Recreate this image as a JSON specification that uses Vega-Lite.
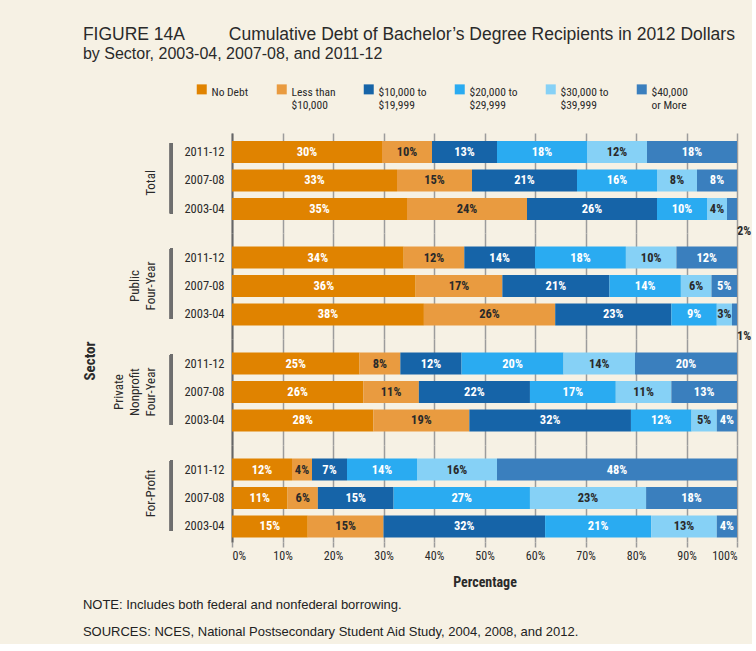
{
  "$schema": "https://vega.github.io/schema/vega-lite/v6.json",
  "background": "#f6f1e4",
  "padding": {"left": 82, "top": 25, "right": 0, "bottom": 5},
  "title": {
    "text": "FIGURE 14A\u2003\u2003\u2002Cumulative Debt of Bachelor’s Degree Recipients in 2012 Dollars",
    "subtitle": "by Sector, 2003-04, 2007-08, and 2011-12",
    "anchor": "start",
    "font": "Liberation Sans",
    "fontSize": 17.5,
    "fontWeight": "normal",
    "color": "#2a2a2a",
    "subtitleFont": "Liberation Sans",
    "subtitleFontSize": 16,
    "subtitleColor": "#2a2a2a",
    "subtitlePadding": 3,
    "offset": 19
  },
  "config": {
    "view": {"stroke": null},
    "font": "Liberation Sans Narrow, Roboto Condensed, DejaVu Sans Condensed, Liberation Sans, sans-serif"
  },
  "data": {
    "values": [
      {"s": "Total", "y": "2011-12", "c": "No Debt", "k": 1, "v": 30},
      {"s": "Total", "y": "2011-12", "c": "Less than $10,000", "k": 2, "v": 10},
      {"s": "Total", "y": "2011-12", "c": "$10,000 to $19,999", "k": 3, "v": 13},
      {"s": "Total", "y": "2011-12", "c": "$20,000 to $29,999", "k": 4, "v": 18},
      {"s": "Total", "y": "2011-12", "c": "$30,000 to $39,999", "k": 5, "v": 12},
      {"s": "Total", "y": "2011-12", "c": "$40,000 or More", "k": 6, "v": 18},
      {"s": "Total", "y": "2007-08", "c": "No Debt", "k": 1, "v": 33},
      {"s": "Total", "y": "2007-08", "c": "Less than $10,000", "k": 2, "v": 15},
      {"s": "Total", "y": "2007-08", "c": "$10,000 to $19,999", "k": 3, "v": 21},
      {"s": "Total", "y": "2007-08", "c": "$20,000 to $29,999", "k": 4, "v": 16},
      {"s": "Total", "y": "2007-08", "c": "$30,000 to $39,999", "k": 5, "v": 8},
      {"s": "Total", "y": "2007-08", "c": "$40,000 or More", "k": 6, "v": 8},
      {"s": "Total", "y": "2003-04", "c": "No Debt", "k": 1, "v": 35},
      {"s": "Total", "y": "2003-04", "c": "Less than $10,000", "k": 2, "v": 24},
      {"s": "Total", "y": "2003-04", "c": "$10,000 to $19,999", "k": 3, "v": 26},
      {"s": "Total", "y": "2003-04", "c": "$20,000 to $29,999", "k": 4, "v": 10},
      {"s": "Total", "y": "2003-04", "c": "$30,000 to $39,999", "k": 5, "v": 4},
      {"s": "Total", "y": "2003-04", "c": "$40,000 or More", "k": 6, "v": 2},
      {"s": "Public Four-Year", "y": "2011-12", "c": "No Debt", "k": 1, "v": 34},
      {"s": "Public Four-Year", "y": "2011-12", "c": "Less than $10,000", "k": 2, "v": 12},
      {"s": "Public Four-Year", "y": "2011-12", "c": "$10,000 to $19,999", "k": 3, "v": 14},
      {"s": "Public Four-Year", "y": "2011-12", "c": "$20,000 to $29,999", "k": 4, "v": 18},
      {"s": "Public Four-Year", "y": "2011-12", "c": "$30,000 to $39,999", "k": 5, "v": 10},
      {"s": "Public Four-Year", "y": "2011-12", "c": "$40,000 or More", "k": 6, "v": 12},
      {"s": "Public Four-Year", "y": "2007-08", "c": "No Debt", "k": 1, "v": 36},
      {"s": "Public Four-Year", "y": "2007-08", "c": "Less than $10,000", "k": 2, "v": 17},
      {"s": "Public Four-Year", "y": "2007-08", "c": "$10,000 to $19,999", "k": 3, "v": 21},
      {"s": "Public Four-Year", "y": "2007-08", "c": "$20,000 to $29,999", "k": 4, "v": 14},
      {"s": "Public Four-Year", "y": "2007-08", "c": "$30,000 to $39,999", "k": 5, "v": 6},
      {"s": "Public Four-Year", "y": "2007-08", "c": "$40,000 or More", "k": 6, "v": 5},
      {"s": "Public Four-Year", "y": "2003-04", "c": "No Debt", "k": 1, "v": 38},
      {"s": "Public Four-Year", "y": "2003-04", "c": "Less than $10,000", "k": 2, "v": 26},
      {"s": "Public Four-Year", "y": "2003-04", "c": "$10,000 to $19,999", "k": 3, "v": 23},
      {"s": "Public Four-Year", "y": "2003-04", "c": "$20,000 to $29,999", "k": 4, "v": 9},
      {"s": "Public Four-Year", "y": "2003-04", "c": "$30,000 to $39,999", "k": 5, "v": 3},
      {"s": "Public Four-Year", "y": "2003-04", "c": "$40,000 or More", "k": 6, "v": 1},
      {"s": "Private Nonprofit Four-Year", "y": "2011-12", "c": "No Debt", "k": 1, "v": 25},
      {"s": "Private Nonprofit Four-Year", "y": "2011-12", "c": "Less than $10,000", "k": 2, "v": 8},
      {"s": "Private Nonprofit Four-Year", "y": "2011-12", "c": "$10,000 to $19,999", "k": 3, "v": 12},
      {"s": "Private Nonprofit Four-Year", "y": "2011-12", "c": "$20,000 to $29,999", "k": 4, "v": 20},
      {"s": "Private Nonprofit Four-Year", "y": "2011-12", "c": "$30,000 to $39,999", "k": 5, "v": 14},
      {"s": "Private Nonprofit Four-Year", "y": "2011-12", "c": "$40,000 or More", "k": 6, "v": 20},
      {"s": "Private Nonprofit Four-Year", "y": "2007-08", "c": "No Debt", "k": 1, "v": 26},
      {"s": "Private Nonprofit Four-Year", "y": "2007-08", "c": "Less than $10,000", "k": 2, "v": 11},
      {"s": "Private Nonprofit Four-Year", "y": "2007-08", "c": "$10,000 to $19,999", "k": 3, "v": 22},
      {"s": "Private Nonprofit Four-Year", "y": "2007-08", "c": "$20,000 to $29,999", "k": 4, "v": 17},
      {"s": "Private Nonprofit Four-Year", "y": "2007-08", "c": "$30,000 to $39,999", "k": 5, "v": 11},
      {"s": "Private Nonprofit Four-Year", "y": "2007-08", "c": "$40,000 or More", "k": 6, "v": 13},
      {"s": "Private Nonprofit Four-Year", "y": "2003-04", "c": "No Debt", "k": 1, "v": 28},
      {"s": "Private Nonprofit Four-Year", "y": "2003-04", "c": "Less than $10,000", "k": 2, "v": 19},
      {"s": "Private Nonprofit Four-Year", "y": "2003-04", "c": "$10,000 to $19,999", "k": 3, "v": 32},
      {"s": "Private Nonprofit Four-Year", "y": "2003-04", "c": "$20,000 to $29,999", "k": 4, "v": 12},
      {"s": "Private Nonprofit Four-Year", "y": "2003-04", "c": "$30,000 to $39,999", "k": 5, "v": 5},
      {"s": "Private Nonprofit Four-Year", "y": "2003-04", "c": "$40,000 or More", "k": 6, "v": 4},
      {"s": "For-Profit", "y": "2011-12", "c": "No Debt", "k": 1, "v": 12},
      {"s": "For-Profit", "y": "2011-12", "c": "Less than $10,000", "k": 2, "v": 4},
      {"s": "For-Profit", "y": "2011-12", "c": "$10,000 to $19,999", "k": 3, "v": 7},
      {"s": "For-Profit", "y": "2011-12", "c": "$20,000 to $29,999", "k": 4, "v": 14},
      {"s": "For-Profit", "y": "2011-12", "c": "$30,000 to $39,999", "k": 5, "v": 16},
      {"s": "For-Profit", "y": "2011-12", "c": "$40,000 or More", "k": 6, "v": 48},
      {"s": "For-Profit", "y": "2007-08", "c": "No Debt", "k": 1, "v": 11},
      {"s": "For-Profit", "y": "2007-08", "c": "Less than $10,000", "k": 2, "v": 6},
      {"s": "For-Profit", "y": "2007-08", "c": "$10,000 to $19,999", "k": 3, "v": 15},
      {"s": "For-Profit", "y": "2007-08", "c": "$20,000 to $29,999", "k": 4, "v": 27},
      {"s": "For-Profit", "y": "2007-08", "c": "$30,000 to $39,999", "k": 5, "v": 23},
      {"s": "For-Profit", "y": "2007-08", "c": "$40,000 or More", "k": 6, "v": 18},
      {"s": "For-Profit", "y": "2003-04", "c": "No Debt", "k": 1, "v": 15},
      {"s": "For-Profit", "y": "2003-04", "c": "Less than $10,000", "k": 2, "v": 15},
      {"s": "For-Profit", "y": "2003-04", "c": "$10,000 to $19,999", "k": 3, "v": 32},
      {"s": "For-Profit", "y": "2003-04", "c": "$20,000 to $29,999", "k": 4, "v": 21},
      {"s": "For-Profit", "y": "2003-04", "c": "$30,000 to $39,999", "k": 5, "v": 13},
      {"s": "For-Profit", "y": "2003-04", "c": "$40,000 or More", "k": 6, "v": 4}
    ]
  },
  "transform": [
    {"stack": "v", "groupby": ["s", "y"], "sort": [{"field": "k"}], "offset": "normalize", "as": ["x0", "x1"]},
    {"calculate": "(datum.x0 + datum.x1) / 2", "as": "xm"},
    {"calculate": "datum.v + '%'", "as": "lbl"}
  ],
  "vconcat": [
    {
      "title": {
        "text": "NOTE: Includes both federal and nonfederal borrowing.",
        "subtitle": "SOURCES: NCES, National Postsecondary Student Aid Study, 2004, 2008, and 2012.",
        "orient": "bottom",
        "anchor": "start",
        "font": "Liberation Sans",
        "fontSize": 13,
        "fontWeight": "normal",
        "color": "#222",
        "subtitleFont": "Liberation Sans",
        "subtitleFontSize": 13,
        "subtitleColor": "#222",
        "subtitlePadding": 14,
        "offset": 10
      },
      "vconcat": [
        {
          "title": {"text": "Sector", "orient": "left", "anchor": "middle", "fontSize": 15, "fontWeight": "bold", "color": "#2a2a2a", "offset": 15},
          "spacing": 0,
          "bounds": "flush",
          "vconcat": [
            {
              "width": 505,
              "height": 100,
              "transform": [{"filter": "datum.s == 'Total'"}],
              "title": {"text": ["Total"], "orient": "left", "anchor": "middle", "fontSize": 13, "fontWeight": "normal", "color": "#2a2a2a", "lineHeight": 16, "offset": 12},
              "encoding": {
                "y": {
                  "field": "y", "type": "nominal", "sort": ["2011-12", "2007-08", "2003-04"],
                  "scale": {"paddingInner": 0.228, "paddingOuter": 0.368, "align": 0.38},
                  "axis": {"title": null, "ticks": false, "domainColor": "#666", "domainWidth": 2, "labelPadding": 8, "labelFontSize": 12.5, "labelColor": "#2a2a2a"}
                }
              },
              "layer": [
                {
                  "mark": {"type": "bar"},
                  "encoding": {
                    "x": {
                      "field": "x0", "type": "quantitative", "scale": {"domain": [0, 1], "nice": false},
                      "axis": {"title": null, "labels": false, "ticks": false, "domain": false, "grid": true, "gridColor": "#9c9c9c", "gridWidth": 1.5, "values": [0, 0.1, 0.2, 0.3, 0.4, 0.5, 0.6, 0.7, 0.8, 0.9, 1]}
                    },
                    "x2": {"field": "x1"},
                    "color": {
                      "field": "c", "type": "nominal",
                      "scale": {
                        "domain": ["No Debt", "Less than $10,000", "$10,000 to $19,999", "$20,000 to $29,999", "$30,000 to $39,999", "$40,000 or More"],
                        "range": ["#e08300", "#e99b40", "#1664a8", "#2aabf1", "#86d1f6", "#3a7fbe"]
                      },
                      "legend": {
                        "title": null,
                        "orient": "none",
                        "legendX": -36,
                        "legendY": -52,
                        "direction": "horizontal",
                        "symbolType": "M-1,-0.5H1V1.5H-1Z",
                        "symbolSize": 100,
                        "symbolStrokeWidth": 0,
                        "labelBaseline": "top",
                        "labelFontSize": 11.5,
                        "labelColor": "#2a2a2a",
                        "columnPadding": 27,
                        "labelExpr": "{'No Debt': ['No Debt', ''], 'Less than $10,000': ['Less than', '$10,000'], '$10,000 to $19,999': ['$10,000 to', '$19,999'], '$20,000 to $29,999': ['$20,000 to', '$29,999'], '$30,000 to $39,999': ['$30,000 to', '$39,999'], '$40,000 or More': ['$40,000', 'or More']}[datum.label]"
                      }
                    }
                  }
                },
                {
                  "transform": [{"filter": "datum.v >= 3"}],
                  "mark": {"type": "text", "fontWeight": "bold", "fontSize": 12.5, "align": "center", "baseline": "middle"},
                  "encoding": {
                    "x": {"field": "xm", "type": "quantitative"},
                    "text": {"field": "lbl"},
                    "color": {"condition": {"test": "datum.k == 2 || datum.k == 5", "value": "#2a2a2a"}, "value": "#ffffff"}
                  }
                },
                {
                  "transform": [{"filter": "datum.v < 3"}],
                  "mark": {"type": "text", "fontWeight": "bold", "fontSize": 12.5, "align": "left", "baseline": "middle", "dy": 22, "color": "#2a2a2a"},
                  "encoding": {"x": {"field": "x1", "type": "quantitative"}, "text": {"field": "lbl"}}
                },
                {
                  "mark": {"type": "rule", "color": "#6e6e6e", "strokeWidth": 3},
                  "encoding": {
                    "x": {"datum": -0.12},
                    "y": {"datum": "2011-12", "bandPosition": 0.1},
                    "y2": {"datum": "2003-04", "bandPosition": 0.7}
                  }
                }
              ]
            },
            {
              "width": 505,
              "height": 106,
              "transform": [{"filter": "datum.s == 'Public Four-Year'"}],
              "title": {"text": ["Public", "Four-Year"], "orient": "left", "anchor": "middle", "fontSize": 13, "fontWeight": "normal", "color": "#2a2a2a", "lineHeight": 16, "offset": 12},
              "encoding": {
                "y": {
                  "field": "y", "type": "nominal", "sort": ["2011-12", "2007-08", "2003-04"],
                  "scale": {"paddingInner": 0.228, "paddingOuter": 0.474, "align": 0.5},
                  "axis": {"title": null, "ticks": false, "domainColor": "#666", "domainWidth": 2, "labelPadding": 8, "labelFontSize": 12.5, "labelColor": "#2a2a2a"}
                }
              },
              "layer": [
                {
                  "mark": {"type": "bar"},
                  "encoding": {
                    "x": {
                      "field": "x0", "type": "quantitative", "scale": {"domain": [0, 1], "nice": false},
                      "axis": {"title": null, "labels": false, "ticks": false, "domain": false, "grid": true, "gridColor": "#9c9c9c", "gridWidth": 1.5, "values": [0, 0.1, 0.2, 0.3, 0.4, 0.5, 0.6, 0.7, 0.8, 0.9, 1]}
                    },
                    "x2": {"field": "x1"},
                    "color": {
                      "field": "c", "type": "nominal",
                      "scale": {
                        "domain": ["No Debt", "Less than $10,000", "$10,000 to $19,999", "$20,000 to $29,999", "$30,000 to $39,999", "$40,000 or More"],
                        "range": ["#e08300", "#e99b40", "#1664a8", "#2aabf1", "#86d1f6", "#3a7fbe"]
                      }
                    }
                  }
                },
                {
                  "transform": [{"filter": "datum.v >= 3"}],
                  "mark": {"type": "text", "fontWeight": "bold", "fontSize": 12.5, "align": "center", "baseline": "middle"},
                  "encoding": {
                    "x": {"field": "xm", "type": "quantitative"},
                    "text": {"field": "lbl"},
                    "color": {"condition": {"test": "datum.k == 2 || datum.k == 5", "value": "#2a2a2a"}, "value": "#ffffff"}
                  }
                },
                {
                  "transform": [{"filter": "datum.v < 3"}],
                  "mark": {"type": "text", "fontWeight": "bold", "fontSize": 12.5, "align": "left", "baseline": "middle", "dy": 22, "color": "#2a2a2a"},
                  "encoding": {"x": {"field": "x1", "type": "quantitative"}, "text": {"field": "lbl"}}
                },
                {
                  "mark": {"type": "rule", "color": "#6e6e6e", "strokeWidth": 3},
                  "encoding": {
                    "x": {"datum": -0.12},
                    "y": {"datum": "2011-12", "bandPosition": 0.1},
                    "y2": {"datum": "2003-04", "bandPosition": 0.7}
                  }
                }
              ]
            },
            {
              "width": 505,
              "height": 106,
              "transform": [{"filter": "datum.s == 'Private Nonprofit Four-Year'"}],
              "title": {"text": ["Private", "Nonprofit", "Four-Year"], "orient": "left", "anchor": "middle", "fontSize": 13, "fontWeight": "normal", "color": "#2a2a2a", "lineHeight": 16, "offset": 12},
              "encoding": {
                "y": {
                  "field": "y", "type": "nominal", "sort": ["2011-12", "2007-08", "2003-04"],
                  "scale": {"paddingInner": 0.228, "paddingOuter": 0.474, "align": 0.5},
                  "axis": {"title": null, "ticks": false, "domainColor": "#666", "domainWidth": 2, "labelPadding": 8, "labelFontSize": 12.5, "labelColor": "#2a2a2a"}
                }
              },
              "layer": [
                {
                  "mark": {"type": "bar"},
                  "encoding": {
                    "x": {
                      "field": "x0", "type": "quantitative", "scale": {"domain": [0, 1], "nice": false},
                      "axis": {"title": null, "labels": false, "ticks": false, "domain": false, "grid": true, "gridColor": "#9c9c9c", "gridWidth": 1.5, "values": [0, 0.1, 0.2, 0.3, 0.4, 0.5, 0.6, 0.7, 0.8, 0.9, 1]}
                    },
                    "x2": {"field": "x1"},
                    "color": {
                      "field": "c", "type": "nominal",
                      "scale": {
                        "domain": ["No Debt", "Less than $10,000", "$10,000 to $19,999", "$20,000 to $29,999", "$30,000 to $39,999", "$40,000 or More"],
                        "range": ["#e08300", "#e99b40", "#1664a8", "#2aabf1", "#86d1f6", "#3a7fbe"]
                      }
                    }
                  }
                },
                {
                  "transform": [{"filter": "datum.v >= 3"}],
                  "mark": {"type": "text", "fontWeight": "bold", "fontSize": 12.5, "align": "center", "baseline": "middle"},
                  "encoding": {
                    "x": {"field": "xm", "type": "quantitative"},
                    "text": {"field": "lbl"},
                    "color": {"condition": {"test": "datum.k == 2 || datum.k == 5", "value": "#2a2a2a"}, "value": "#ffffff"}
                  }
                },
                {
                  "mark": {"type": "rule", "color": "#6e6e6e", "strokeWidth": 3},
                  "encoding": {
                    "x": {"datum": -0.12},
                    "y": {"datum": "2011-12", "bandPosition": 0.1},
                    "y2": {"datum": "2003-04", "bandPosition": 0.7}
                  }
                }
              ]
            },
            {
              "width": 505,
              "height": 97,
              "transform": [{"filter": "datum.s == 'For-Profit'"}],
              "title": {"text": ["For-Profit"], "orient": "left", "anchor": "middle", "fontSize": 13, "fontWeight": "normal", "color": "#2a2a2a", "lineHeight": 16, "offset": 12},
              "encoding": {
                "y": {
                  "field": "y", "type": "nominal", "sort": ["2011-12", "2007-08", "2003-04"],
                  "scale": {"paddingInner": 0.228, "paddingOuter": 0.316, "align": 0.75},
                  "axis": {"title": null, "ticks": false, "domainColor": "#666", "domainWidth": 2, "labelPadding": 8, "labelFontSize": 12.5, "labelColor": "#2a2a2a"}
                }
              },
              "layer": [
                {
                  "mark": {"type": "bar"},
                  "encoding": {
                    "x": {
                      "field": "x0", "type": "quantitative", "scale": {"domain": [0, 1], "nice": false},
                      "axis": {
                        "title": "Percentage", "format": ".0%", "values": [0, 0.1, 0.2, 0.3, 0.4, 0.5, 0.6, 0.7, 0.8, 0.9, 1],
                        "grid": true, "gridColor": "#9c9c9c", "gridWidth": 1.5, "domain": false,
                        "tickColor": "#9c9c9c", "tickSize": 5, "tickWidth": 1.5,
                        "labelFontSize": 12, "labelColor": "#2a2a2a", "labelPadding": 3,
                        "titleFontSize": 14, "titleFontWeight": "bold", "titleColor": "#2a2a2a", "titlePadding": 14
                      }
                    },
                    "x2": {"field": "x1"},
                    "color": {
                      "field": "c", "type": "nominal",
                      "scale": {
                        "domain": ["No Debt", "Less than $10,000", "$10,000 to $19,999", "$20,000 to $29,999", "$30,000 to $39,999", "$40,000 or More"],
                        "range": ["#e08300", "#e99b40", "#1664a8", "#2aabf1", "#86d1f6", "#3a7fbe"]
                      }
                    }
                  }
                },
                {
                  "transform": [{"filter": "datum.v >= 3"}],
                  "mark": {"type": "text", "fontWeight": "bold", "fontSize": 12.5, "align": "center", "baseline": "middle"},
                  "encoding": {
                    "x": {"field": "xm", "type": "quantitative"},
                    "text": {"field": "lbl"},
                    "color": {"condition": {"test": "datum.k == 2 || datum.k == 5", "value": "#2a2a2a"}, "value": "#ffffff"}
                  }
                },
                {
                  "mark": {"type": "rule", "color": "#6e6e6e", "strokeWidth": 3},
                  "encoding": {
                    "x": {"datum": -0.12},
                    "y": {"datum": "2011-12", "bandPosition": 0.1},
                    "y2": {"datum": "2003-04", "bandPosition": 0.7}
                  }
                }
              ]
            }
          ]
        }
      ]
    }
  ]
}
